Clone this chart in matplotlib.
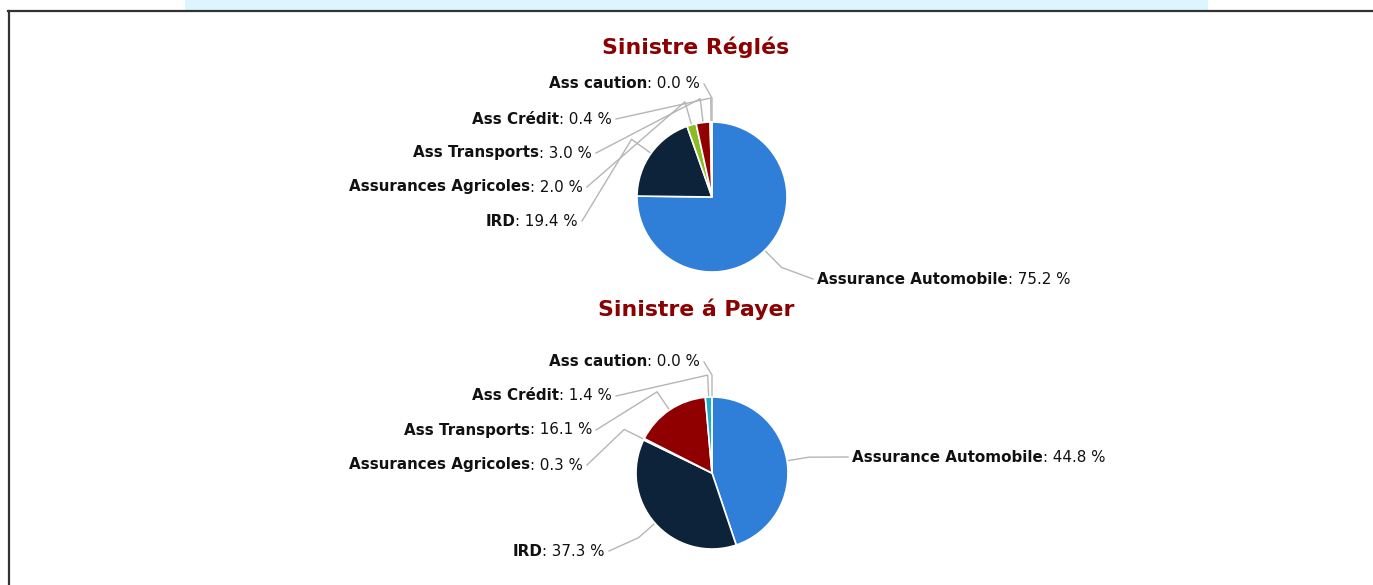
import matplotlib.pyplot as plt
import numpy as np
from matplotlib.offsetbox import AnnotationBbox, HPacker, TextArea
from matplotlib.patches import Rectangle

# --- data ---
categories = ["Assurance Automobile", "IRD", "Assurances Agricoles",
              "Ass Transports", "Ass Crédit", "Ass caution"]
regles = [75.2, 19.4, 2.0, 3.0, 0.4, 0.0]
a_payer = [44.8, 37.3, 0.3, 16.1, 1.4, 0.0]
titles = ["Sinistre Réglés", "Sinistre á Payer"]
colors = ["#2f7ed8", "#0d233a", "#8bbc21", "#910000", "#1aadce", "#492970"]

W, H = 1373, 585
fig = plt.figure(figsize=(W / 100, H / 100), dpi=100)
ax = fig.add_axes([0, 0, 1, 1])


def py(y):
    # pixel row (from top) -> data y
    return H - y


# pie layout: centre, radius, title y, elbow distance, label anchors (x, y, side)
layouts = [
    dict(center=(712, 197), r=75, title_y=47, d=24,
         labels=[(817, 279, "left"), (578, 221, "right"), (583, 187, "right"),
                 (592, 153, "right"), (612, 119, "right"), (700, 84, "right")]),
    dict(center=(712, 473), r=76, title_y=309, d=22,
         labels=[(852, 457, "left"), (605, 551, "right"), (583, 465, "right"),
                 (592, 430, "right"), (612, 396, "right"), (700, 362, "right")]),
]

for values, title, lay in zip([regles, a_payer], titles, layouts):
    cx, cy = lay["center"]
    r = lay["r"]
    ax.pie(values, colors=colors, center=(cx, py(cy)), radius=r,
           startangle=90, counterclock=False,
           wedgeprops=dict(edgecolor="white", linewidth=1.2))
    ax.text(696, py(lay["title_y"]), title, ha="center", va="center",
            fontsize=15.8, fontweight="bold", color="#8b0000")

    cum = np.cumsum([0] + values)
    total = sum(values)
    for i, (name, v) in enumerate(zip(categories, values)):
        mid = (cum[i] + v / 2) / total
        ang = np.deg2rad(90 - mid * 360)
        ux, uy = np.cos(ang), np.sin(ang)
        edge = (cx + r * ux, py(cy) + r * uy)
        elbow = (cx + (r + lay["d"]) * ux, py(cy) + (r + lay["d"]) * uy)
        lx, ly, side = lay["labels"][i]
        start = lx - 4 if side == "left" else lx + 4
        ax.plot([start, elbow[0], edge[0]], [py(ly), elbow[1], edge[1]],
                color="#b5b5b5", linewidth=1, solid_joinstyle="round", zorder=0)
        box = HPacker(children=[
            TextArea(name, textprops=dict(fontsize=10.9, fontweight="bold", color="#111111")),
            TextArea(f": {v:.1f} %", textprops=dict(fontsize=10.9, color="#111111")),
        ], pad=0, sep=0, align="baseline")
        ab = AnnotationBbox(box, (lx, py(ly)), xycoords="data",
                            box_alignment=(0 if side == "left" else 1, 0.5),
                            frameon=False, pad=0)
        ax.add_artist(ab)

# banner strip at the top and frame
ax.add_patch(Rectangle((185, py(10)), 1023, 10, facecolor="#dcf5ff",
                       edgecolor="none", zorder=1))
ax.plot([8, W], [py(11), py(11)], color="#333333", linewidth=1.6)
ax.plot([9, 9], [py(11), 0], color="#333333", linewidth=1.6)

ax.set_xlim(0, W)
ax.set_ylim(0, H)
ax.set_aspect("equal")
ax.axis("off")

fig.savefig("out.png", dpi=100)
